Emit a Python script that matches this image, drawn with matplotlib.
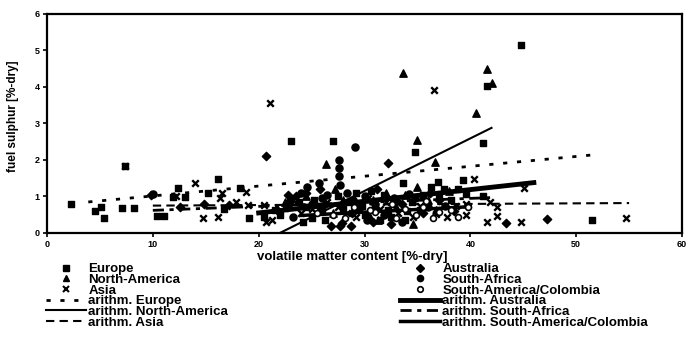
import matplotlib
matplotlib.use("Agg")
from matplotlib import pyplot as plt
from matplotlib.lines import Line2D

plt.rcParams['font.family'] = ['Liberation Sans Narrow', 'Liberation Sans', 'DejaVu Sans']
plt.rcParams['font.weight'] = 'bold'

# volatile matter content [%-dry] / fuel sulphur [%-dry] per origin
europe_x = [2.3, 4.5, 5.1, 5.4, 7.1, 7.4, 8.2, 10.4, 11.1, 11.9, 12.4, 13.0, 15.2, 16.2, 16.7, 18.2, 19.1,
            23.1, 27.0, 44.8, 41.6, 41.2, 34.8, 36.9, 39.3, 39.6, 41.2, 33.6, 51.5,
            20.5, 22.0, 24.5, 25.2, 26.0, 27.5, 28.5, 30.0, 31.0, 32.5, 33.0, 34.0, 35.5, 36.3, 37.5, 38.2,
            29.2, 23.8, 31.8, 26.3, 33.8,
            21.5, 23.0, 25.0, 28.0, 29.8, 31.5, 32.2, 34.5, 35.2, 37.0, 38.8, 30.6, 24.2]
europe_y = [0.79, 0.60, 0.71, 0.41, 0.68, 1.84, 0.69, 0.47, 0.47, 0.98, 1.22, 0.99, 1.09, 1.48, 0.66, 1.24, 0.42,
            2.52, 2.52, 5.15, 4.03, 2.47, 2.23, 1.40, 1.45, 1.08, 1.01, 1.38, 0.35,
            0.45, 0.50, 0.70, 0.90, 0.60, 1.00, 0.85, 0.50, 0.75, 0.45, 0.90, 0.60, 1.05, 1.25, 1.20, 0.90,
            1.10, 0.85, 1.05, 0.35, 0.35,
            0.62, 0.90, 0.40, 0.65, 0.75, 0.35, 0.62, 0.85, 0.62, 0.95, 1.20, 1.15, 0.30]

namerica_x = [33.6, 41.6, 42.0, 40.5, 35.0, 36.7, 26.4, 31.3, 34.6, 30.4, 35.0, 24.5, 28.0, 32.0, 25.8,
              29.5, 36.0, 38.0, 27.2, 33.0, 27.0, 30.8, 33.8, 36.8, 22.5]
namerica_y = [4.38, 4.49, 4.10, 3.29, 2.55, 1.94, 1.89, 0.36, 0.25, 0.50, 1.25, 1.00, 0.90, 1.10, 0.70,
              0.80, 0.90, 1.15, 1.20, 0.70, 0.55, 0.90, 1.05, 0.62, 0.85]

asia_x = [7.4, 21.1, 36.6, 45.1, 40.3, 39.6, 41.6, 42.5, 44.8, 54.7, 41.9, 42.5, 14.7, 16.2, 14.0, 16.5,
          18.8, 20.7, 21.3, 17.9, 19.0, 16.3, 20.5, 22.5, 24.0, 26.5, 28.3, 30.3, 31.5, 33.2, 34.6, 36.8,
          38.6, 39.6, 12.2, 25.0, 23.2, 27.5, 29.2, 32.0, 35.2, 37.8]
asia_y = [1.84, 3.57, 3.92, 1.24, 1.47, 0.49, 0.30, 0.47, 0.30, 0.40, 0.86, 0.70, 0.40, 0.43, 1.38, 1.10,
          1.13, 0.30, 0.36, 0.85, 0.78, 0.95, 0.78, 0.68, 0.55, 0.85, 0.55, 0.95, 0.65, 0.55, 0.45, 0.52,
          0.75, 0.80, 1.02, 0.65, 0.90, 0.70, 0.45, 0.85, 0.75, 0.45]

australia_x = [20.7, 32.2, 43.4, 47.2, 28.8, 26.8, 27.7, 28.7, 27.9, 9.8, 12.6, 14.8, 17.2, 21.8, 23.5,
               24.5, 30.8, 32.5, 35.5, 37.0, 29.5, 25.8, 22.8, 26.2, 31.2, 33.5, 36.2, 38.5]
australia_y = [2.12, 1.91, 0.28, 0.38, 0.54, 0.19, 0.20, 0.20, 0.28, 1.05, 0.72, 0.80, 0.78, 0.60, 1.00,
               1.10, 0.30, 0.25, 0.55, 0.90, 0.65, 1.20, 1.05, 0.78, 1.20, 0.80, 1.10, 0.60]

safrica_x = [29.1, 27.6, 27.6, 25.7, 24.0, 27.7, 10.0, 27.6, 26.5, 28.3, 22.8, 30.0, 31.0, 32.8, 34.2,
             26.0, 30.2, 33.5, 23.2, 36.0, 25.0, 28.9, 31.8, 34.8, 37.6, 24.6]
safrica_y = [2.36, 2.00, 1.77, 1.37, 1.10, 1.31, 1.08, 1.55, 1.05, 1.10, 0.75, 1.00, 0.80, 0.95, 1.08,
             0.95, 0.35, 0.30, 0.45, 0.70, 0.80, 0.90, 0.50, 0.95, 0.75, 1.25]

colombia_x = [37.0, 38.2, 35.5, 33.8, 31.0, 29.0, 27.0, 36.5, 39.8, 25.5, 32.6, 34.9, 28.2, 30.5, 33.0,
              38.8, 35.8]
colombia_y = [0.57, 0.62, 0.72, 0.66, 0.58, 0.70, 0.50, 0.42, 0.70, 0.55, 0.80, 0.50, 0.40, 0.62, 0.42,
              0.45, 0.88]

# arithmetic mean lines (start/end)
mean_europe = ([3.9, 51.6], [0.85, 2.14])
mean_namerica = ([22.0, 42.0], [0.0, 2.88])
mean_asia = ([10.0, 55.0], [0.75, 0.82])
mean_australia = ([20.0, 46.0], [0.55, 1.38])
mean_safrica = ([10.0, 42.0], [0.62, 0.97])
mean_colombia = ([24.0, 40.0], [0.48, 0.72])

fig = plt.figure(figsize=(6.86, 3.48), dpi=100)
ax = fig.add_axes([0.0685, 0.3305, 0.9257, 0.6293])

ax.plot(*mean_europe, color='black', lw=2, dashes=(1.5, 3.5))
ax.plot(*mean_namerica, color='black', lw=1.5)
ax.plot(*mean_asia, color='black', lw=1.5, dashes=(4, 2.5))
ax.plot(*mean_australia, color='black', lw=3.5)
ax.plot(*mean_safrica, color='black', lw=2, dashes=(4, 2, 1.5, 2))
ax.plot(*mean_colombia, color='black', lw=2.5)

ax.scatter(europe_x, europe_y, marker='s', s=24, color='black', zorder=3)
ax.scatter(namerica_x, namerica_y, marker='^', s=28, color='black', zorder=3)
ax.scatter(asia_x, asia_y, marker='x', s=22, color='black', linewidths=1.7, zorder=3)
ax.scatter(australia_x, australia_y, marker='D', s=18, color='black', zorder=3)
ax.scatter(safrica_x, safrica_y, marker='o', s=26, color='black', zorder=3)
ax.scatter(colombia_x, colombia_y, marker='o', s=18, facecolor='white', edgecolor='black',
           linewidths=1.2, zorder=3)

ax.set_xlim(0, 60)
ax.set_ylim(0, 6)
ax.set_xticks(range(0, 61, 10))
ax.set_yticks(range(0, 7))
ax.tick_params(direction='out', length=3, width=1.2, labelsize=6.5, pad=2)
for s in ax.spines.values():
    s.set_linewidth(1.6)

fig.text(257 / 686, 1 - 257 / 348, "volatile matter content [%-dry]", fontsize=9.5,
         ha='left', va='center', fontweight='bold')
fig.text(13 / 686, 1 - 116 / 348, "fuel sulphur [%-dry]", fontsize=8.5, rotation=90,
         ha='center', va='center', fontweight='bold')

left_handles = [
    Line2D([], [], ls='none', marker='s', ms=4.5, color='black'),
    Line2D([], [], ls='none', marker='^', ms=5, color='black'),
    Line2D([], [], ls='none', marker='x', ms=4.5, mew=1.5, color='black'),
    Line2D([], [], color='black', lw=2, dashes=(1.5, 3.5)),
    Line2D([], [], color='black', lw=1.5),
    Line2D([], [], color='black', lw=1.5, dashes=(4, 2.5)),
]
left_labels = ["Europe", "North-America", "Asia", "arithm. Europe", "arithm. North-America", "arithm. Asia"]
right_handles = [
    Line2D([], [], ls='none', marker='D', ms=4, color='black'),
    Line2D([], [], ls='none', marker='o', ms=4.5, color='black'),
    Line2D([], [], ls='none', marker='o', ms=4, mfc='white', mec='black', mew=1.2),
    Line2D([], [], color='black', lw=3.5),
    Line2D([], [], color='black', lw=2, dashes=(4, 2, 1.5, 2)),
    Line2D([], [], color='black', lw=2.5),
]
right_labels = ["Australia", "South-Africa", "South-America/Colombia", "arithm. Australia",
                "arithm. South-Africa", "arithm. South-America/Colombia"]

leg_kw = dict(loc='upper left', frameon=False, fontsize=9.5, borderpad=0, borderaxespad=0,
              handlelength=3.0, handletextpad=0.2, labelspacing=-0.12)
fig.legend(left_handles, left_labels, bbox_to_anchor=(46 / 686, 1 - 263 / 348), **leg_kw)
fig.legend(right_handles, right_labels, bbox_to_anchor=(400 / 686, 1 - 263 / 348), **leg_kw)

fig.savefig("out.png", dpi=100)
